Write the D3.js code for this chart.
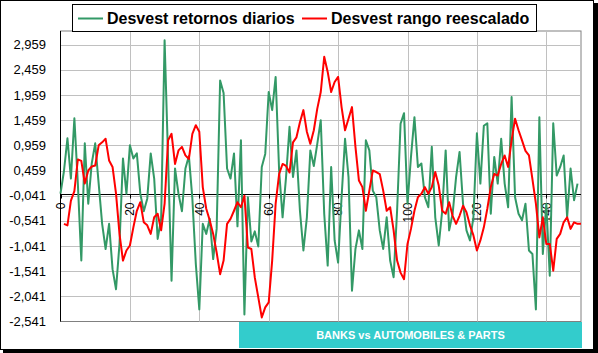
<!DOCTYPE html>
<html>
<head>
<meta charset="utf-8">
<script src="https://cdn.jsdelivr.net/npm/d3@7"></script>
<style>
  html, body { margin: 0; padding: 0; background: #fff; }
  svg { display: block; font-family: Arial, "Liberation Sans", sans-serif; }
</style>
</head>
<body>
<svg id="chart" width="598" height="353"></svg>
<script>
// ----------- Data -------------------------------
const seriesNames = ["Desvest retornos diarios", "Desvest rango reescalado"];
const bannerText = "BANKS vs AUTOMOBILES & PARTS";

// green series, starts at category 0
const retornos = [
  0.0, 0.45, 1.1, 0.3, 1.5, 0.2, -1.33, 1.0, -0.2, 0.6,
  1.0, 0.2, -0.6, -1.1, -0.6, -1.5, -1.9, -1.0, 0.7, 0.0,
  0.96, 0.7, 0.8, 0.0, -0.35, -0.1, 0.8, 0.3, -0.9, -0.5,
  3.05, 0.7, -1.73, 0.5, 0.0, -0.35, 0.5, 0.75, -0.1, -1.4,
  -2.3, -0.6, -0.8, -0.5, -1.3, -0.7, 2.25, 2.0, 0.5, 0.3,
  0.8, -0.65, 1.06, -2.4, -0.07, -0.95, -0.75, -1.05, 0.53, 0.79,
  2.02, 1.66, 2.32, 0.46, -0.47, 0.33, 1.33, 0.33, 0.86, -0.34,
  -1.13, -0.47, 0.86, 0.55, 0.99, 1.46, -0.4, -1.43, 0.53, -0.93,
  -1.37, -0.07, 1.09, 0.33, -1.93, -1.1, -0.73, -1.1, 1.06, 0.86,
  0.06, -0.07, -0.73, -1.1, -0.47, -1.33, -1.66, -0.34, 1.39, 1.6,
  -0.2, 0.73, 1.52, 0.53, 0.6, -0.07, -0.27, 0.93, -0.47, -1.03,
  -0.34, 0.86, -0.73, -0.4, 0.33, 0.83, -0.2, -0.73, -0.93, -0.47,
  1.2, 0.2, 1.35, 1.4, -0.4, 0.73, 0.2, 1.09, 0.2, -0.27,
  1.92, -0.07, -0.4, -0.53, -0.2, -1.13, -1.2, -2.3, 1.52, -1.2,
  -0.2, -1.63, 1.4, 0.36, 0.53, 0.76, -0.47, 0.5, -0.13, 0.2
];

// red series, starts at category 1
const rangoStart = 1;
const rango = [
  -0.60, -0.63, -0.14, 0.05, 0.68, 0.65, 0.2, 0.46, 0.54, 0.56,
  0.96, 1.02, 1.09, 0.66, 0.53, 0.0, -0.80, -1.33, -1.13, -1.03,
  -0.67, -0.34, -0.17, -0.57, -0.63, -0.80, -0.47, -0.40, -0.73, -0.2,
  1.06, 1.19, 0.59, 0.86, 0.93, 0.76, 0.69, 1.19, 1.36, 1.23,
  0.13, -0.30, -0.53, -0.80, -1.17, -1.60, -1.33, -0.60, -0.50, -0.34,
  -0.17, -0.27, -0.04, -1.07, -1.10, -1.67, -2.06, -2.46, -2.26, -2.16,
  -1.33, -0.20, 0.39, 0.59, 0.55, 0.42, 1.02, 1.12, 1.42, 1.66,
  1.23, 0.99, 1.26, 1.69, 2.02, 2.72, 2.42, 2.02, 2.22, 2.32,
  1.72, 1.26, 1.49, 1.72, 0.93, 0.26, 0.13, -0.34, 0.06, 0.46,
  0.43, 0.39, 0.06, -0.34, -0.27, -0.73, -1.33, -1.57, -1.70, -1.0,
  -0.70, -0.34, -0.07, 0.0, 0.13, 0.0, 0.13, 0.43, 0.16, -0.34,
  -0.40, -0.17, -0.44, -0.60, -0.44, -0.24, -0.37, -0.63, -0.83, -1.13,
  -0.93, -0.67, -0.30, 0.13, 0.39, 0.36, 0.59, 0.76, 0.53, 1.06,
  1.49, 1.26, 1.06, 0.85, 0.76, 0.29, -0.20, -0.87, -0.47, -1.0,
  -1.0, -1.53, -0.90, -0.80, -0.57, -0.47, -0.70, -0.57, -0.60, -0.60
];

const yTicks = [-2.541, -2.041, -1.541, -1.041, -0.541, -0.041, 0.459, 0.959, 1.459, 1.959, 2.459, 2.959];
const yTickLabels = ["-2,541", "-2,041", "-1,541", "-1,041", "-0,541", "-0,041", "0,459", "0,959", "1,459", "1,959", "2,459", "2,959"];
const xTicks = [0, 20, 40, 60, 80, 100, 120, 140];
const axisCross = 0; // category axis crosses the value axis at 0

// ----------- Layout ------------
const svg = d3.select("#chart");
const plot = { left: 60.5, right: 581, top: 31, bottom: 321.5 };

const x = d3.scaleLinear().domain([0, 150]).range([plot.left, plot.right]);
const y = d3.scaleLinear().domain([-2.541, 3.233]).range([plot.bottom, plot.top]);

// chart frame with shadow
svg.append("rect").attr("x", 3).attr("y", 3).attr("width", 595).attr("height", 350).attr("fill", "#000");
svg.append("rect").attr("x", 0.5).attr("y", 0.5).attr("width", 593).attr("height", 349)
  .attr("fill", "#fff").attr("stroke", "#000");

// plot area background + border
svg.append("rect")
  .attr("x", plot.left).attr("y", plot.top)
  .attr("width", plot.right - plot.left).attr("height", plot.bottom - plot.top)
  .attr("fill", "#fff").attr("stroke", "#808080");

// horizontal gridlines
svg.append("g").selectAll("line")
  .data(yTicks.slice(1))
  .join("line")
  .attr("x1", plot.left).attr("x2", plot.right)
  .attr("y1", d => Math.round(y(d)) + 0.5).attr("y2", d => Math.round(y(d)) + 0.5)
  .attr("stroke", "#c0c0c0");

// vertical gridlines
svg.append("g").selectAll("line")
  .data(xTicks.filter(d => d > 0))
  .join("line")
  .attr("x1", d => Math.round(x(d)) + 0.5).attr("x2", d => Math.round(x(d)) + 0.5)
  .attr("y1", plot.top).attr("y2", plot.bottom)
  .attr("stroke", "#c0c0c0");

// y axis line + labels
svg.append("line")
  .attr("x1", plot.left).attr("x2", plot.left)
  .attr("y1", plot.top).attr("y2", plot.bottom)
  .attr("stroke", "#000");

svg.append("g").selectAll("text")
  .data(yTicks)
  .join("text")
  .attr("x", 46)
  .attr("y", d => y(d))
  .attr("dy", "0.35em")
  .attr("text-anchor", "end")
  .style("font-size", "13px")
  .attr("fill", "#000")
  .text((d, i) => yTickLabels[i]);

// category axis
const axisY = Math.round(y(axisCross)) + 0.5;
svg.append("line")
  .attr("x1", plot.left).attr("x2", plot.right)
  .attr("y1", axisY).attr("y2", axisY)
  .attr("stroke", "#000");

svg.append("g").selectAll("line")
  .data(xTicks)
  .join("line")
  .attr("x1", d => Math.round(x(d)) + 0.5).attr("x2", d => Math.round(x(d)) + 0.5)
  .attr("y1", axisY).attr("y2", axisY + 4)
  .attr("stroke", "#000");

svg.append("g").selectAll("text")
  .data(xTicks)
  .join("text")
  .attr("transform", d => `translate(${x(d)},${axisY + 8}) rotate(-90)`)
  .attr("dy", "0.35em")
  .attr("text-anchor", "end")
  .style("font-size", "12px")
  .attr("fill", "#000")
  .text(d => d);

// ----------- Series ------------
const line = d3.line()
  .x(d => x(d.i))
  .y(d => y(d.v));

const greenPts = retornos.map((v, i) => ({ i, v }));
const redPts = rango.map((v, k) => ({ i: k + rangoStart, v }));

svg.append("path")
  .datum(greenPts)
  .attr("d", line)
  .attr("fill", "none")
  .attr("stroke", "#339966")
  .attr("stroke-width", 2)
  .attr("stroke-linejoin", "round");

svg.append("path")
  .datum(redPts)
  .attr("d", line)
  .attr("fill", "none")
  .attr("stroke", "#ff0000")
  .attr("stroke-width", 2)
  .attr("stroke-linejoin", "round");

// ----------- Legend ------------
const legend = svg.append("g");
legend.append("rect")
  .attr("x", 72.5).attr("y", 4.5)
  .attr("width", 464).attr("height", 27)
  .attr("fill", "#fff").attr("stroke", "#000");

const legendItems = [
  { name: seriesNames[0], color: "#339966", x: 78 },
  { name: seriesNames[1], color: "#ff0000", x: 302 }
];
legendItems.forEach(d => {
  legend.append("line")
    .attr("x1", d.x).attr("x2", d.x + 25)
    .attr("y1", 18.5).attr("y2", 18.5)
    .attr("stroke", d.color).attr("stroke-width", 2);
  legend.append("text")
    .attr("x", d.x + 29).attr("y", 24)
    .style("font-size", "16px").style("font-weight", "bold")
    .attr("fill", "#000")
    .text(d.name);
});

// ----------- Banner ------------
svg.append("rect")
  .attr("x", 239).attr("y", 322)
  .attr("width", 343).attr("height", 26)
  .attr("fill", "#33cccc");
svg.append("text")
  .attr("x", 410.5).attr("y", 338.5)
  .attr("text-anchor", "middle")
  .style("font-size", "11px").style("font-weight", "bold")
  .attr("fill", "#fff")
  .text(bannerText);
</script>
</body>
</html>
